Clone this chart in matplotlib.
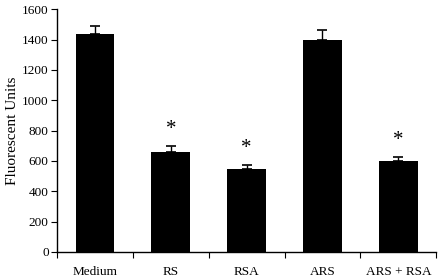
import matplotlib
matplotlib.use("Agg")
import matplotlib.pyplot as plt
import numpy as np

categories = ["Medium", "RS", "RSA", "ARS", "ARS + RSA"]
values = [1435, 656, 546, 1398, 597]
errors = [55, 40, 29, 68, 30]
significant = [False, True, True, False, True]

plt.rcParams['font.family'] = ['Liberation Serif', 'DejaVu Serif']

fig = plt.figure(figsize=(4.4, 2.79), dpi=100)
ax = fig.add_axes([0.1295, 0.0968, 0.862, 0.8699])

x = np.arange(len(categories))
ax.bar(x, values, width=0.51, color='black', zorder=2)
ax.errorbar(x, values, yerr=[np.zeros(len(errors)), errors], fmt='none',
            ecolor='black', elinewidth=1.0, capsize=3.5, capthick=1.2, zorder=1)

for xi, v, e, s in zip(x, values, errors, significant):
    if s:
        ax.annotate('*', (xi, v + e), xytext=(0, 5), textcoords='offset points',
                    ha='center', va='bottom', fontsize=15)

ax.set_xlim(-0.5, len(categories) - 0.5)
ax.set_ylim(0, 1600)
ax.set_yticks(np.arange(0, 1601, 200))
ax.set_xticks(np.arange(len(categories) + 1) - 0.5)
ax.set_xticklabels([])
ax.set_xticks(x, minor=True)
ax.set_xticklabels(categories, minor=True)
ax.tick_params(axis='x', which='minor', length=0, pad=10, labelsize=9.5)
ax.tick_params(axis='x', which='major', length=4, direction='out')
ax.tick_params(axis='y', length=4, direction='out', labelsize=9.5, pad=2)
ax.set_ylabel('Fluorescent Units', fontsize=11, labelpad=2)

for sp in ['top', 'right']:
    ax.spines[sp].set_visible(False)
for sp in ['left', 'bottom']:
    ax.spines[sp].set_linewidth(1.0)

fig.savefig('out.png', dpi=100)
